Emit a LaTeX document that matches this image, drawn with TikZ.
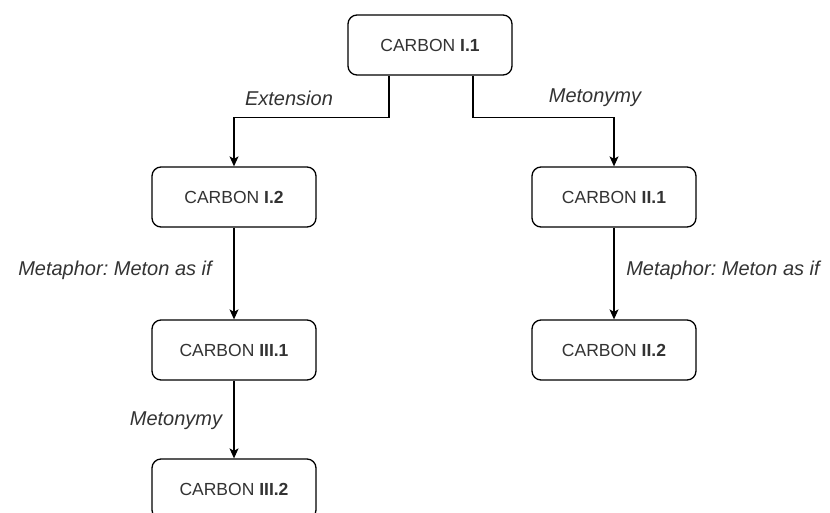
\documentclass[tikz,border=0pt]{standalone}
\usepackage{fontspec}
\setmainfont{Liberation Sans}
\usetikzlibrary{arrows.meta}
\definecolor{txtgrey}{HTML}{333333}
\frenchspacing
\tikzset{
	carbon/.style={draw=black, line width=1.3pt, rounded corners=9pt, fill=white,
		minimum width=164pt, minimum height=60pt, inner sep=0pt, text=txtgrey,
		font=\fontsize{17.5}{20}\selectfont},
	lbl/.style={inner sep=0pt, text=txtgrey, font=\fontsize{20}{24}\selectfont\itshape},
	arr/.style={line width=1.2pt, -{Stealth[length=10pt, width=9pt, inset=2.5pt]}}
}

\begin{document}
\begin{tikzpicture}[x=1pt, y=-1pt]
		%%%%% START %%%%%
		
		\useasboundingbox (0, 0) rectangle (830, 512);
		
		\node[carbon] (c11) at (430, 45) {CARBON \textbf{I.1}};
		\node[carbon] (c12) at (234, 197) {CARBON \textbf{I.2}};
		\node[carbon] (c21) at (614, 197) {CARBON \textbf{II.1}};
		\node[carbon] (c31) at (234, 350) {CARBON \textbf{III.1}};
		\node[carbon] (c22) at (614, 350) {CARBON \textbf{II.2}};
		\node[carbon] (c32) at (234, 489) {CARBON \textbf{III.2}};
		
		\draw[arr] ([xshift=-41pt]c11.south) -- ++(0, 42) -| (c12.north);
		\draw[arr] ([xshift=43pt]c11.south) -- ++(0, 42) -| (c21.north);
		\draw[arr] (c12) -- (c31);
		\draw[arr] (c21) -- (c22);
		\draw[arr] (c31) -- (c32);
		
		\node[lbl] (extension) at (289, 98) {Extension};
		\node[lbl] (metonymy1) at (595, 98) {Metonymy};
		\node[lbl] (metaphor1) at (115, 270) {Metaphor: Meton as if};
		\node[lbl] (metaphor2) at (723, 270) {Metaphor: Meton as if};
		\node[lbl] (metonymy2) at (176, 421) {Metonymy};
		
		%%%%% END %%%%%
	\end{tikzpicture}
\end{document}
